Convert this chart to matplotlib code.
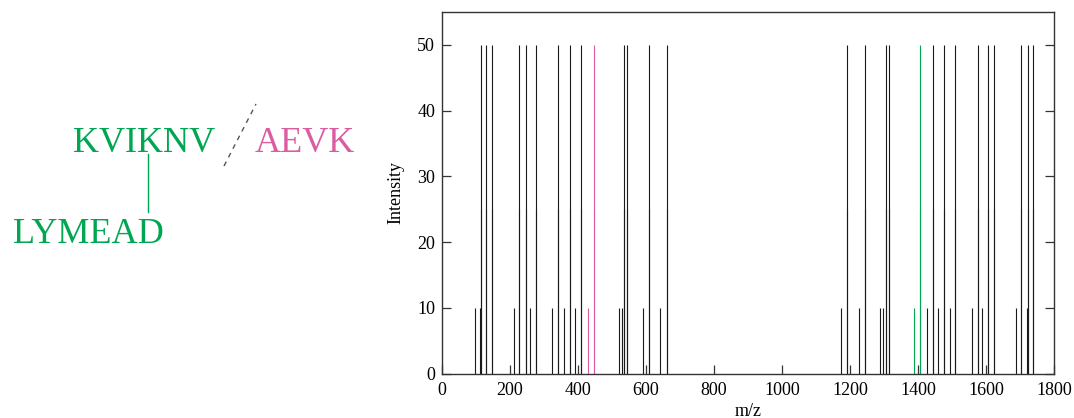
import matplotlib
matplotlib.use("Agg")
import matplotlib.pyplot as plt

plt.rcParams['font.family'] = ['Liberation Serif', 'DejaVu Serif']

# ---- data ----
mz_minor_black = [96, 111, 211, 260, 323, 358, 390, 520, 528, 590, 642,
                  1174, 1227, 1288, 1296, 1426, 1459, 1493, 1559, 1588, 1687, 1720]
mz_major_black = [114, 129, 147, 227, 246, 277, 341, 376, 408, 536, 544, 609, 661,
                  1192, 1244, 1307, 1315, 1443, 1477, 1510, 1575, 1605, 1623, 1704, 1724, 1737]
mz_minor_pink = [429]
mz_major_pink = [446]
mz_minor_green = [1387]
mz_major_green = [1406]
int_minor = 10
int_major = 50
int_half = 25

xticks = [0, 200, 400, 600, 800, 1000, 1200, 1400, 1600, 1800]
yticks = [0, 10, 20, 30, 40, 50]

GREEN = '#00A651'
PINK = '#DC5CA2'
BLACK = '#1a1a1a'

fig = plt.figure(figsize=(10.74, 4.18), dpi=100)

# annotation overlay in pixel coordinates
ov = fig.add_axes([0, 0, 1, 1])
ov.set_xlim(0, 1074)
ov.set_ylim(418, 0)
ov.axis('off')
ov.text(73, 152, 'KVIKNV', color=GREEN, fontsize=26, va='baseline', ha='left')
ov.text(255, 152, 'AEVK', color=PINK, fontsize=26, va='baseline', ha='left')
ov.text(13, 243, 'LYMEAD', color=GREEN, fontsize=26, va='baseline', ha='left')
ov.plot([148, 148], [154, 212], color=GREEN, lw=1.0)
ov.plot([224, 256], [166, 104], color='#555555', lw=1.0, dashes=(3.5, 3.5))

ax = fig.add_axes([442 / 1074, 1 - 373.5 / 418, (1054 - 442) / 1074, (373.5 - 12) / 418])

lw = 0.8
ax.vlines(mz_minor_black, 0, int_minor, color=BLACK, lw=lw)
ax.vlines(mz_major_black, 0, int_major, color=BLACK, lw=lw)
ax.vlines(mz_major_black, 0, int_half, color=BLACK, lw=lw)
ax.vlines(mz_minor_pink, 0, int_minor, color=PINK, lw=lw)
ax.vlines(mz_major_pink, 0, int_major, color=PINK, lw=lw)
ax.vlines(mz_major_pink, 0, int_half, color=PINK, lw=lw)
ax.vlines(mz_minor_green, 0, int_minor, color=GREEN, lw=lw)
ax.vlines(mz_major_green, 0, int_major, color=GREEN, lw=lw)
ax.vlines(mz_major_green, 0, int_half, color=GREEN, lw=lw)

ax.set_xlim(0, 1800)
ax.set_ylim(0, 55)
ax.set_xticks(xticks)
ax.set_yticks(yticks)
ax.tick_params(axis='both', direction='in', length=6.3, width=0.9, color='#333333',
               labelsize=13, pad=6)
ax.tick_params(axis='y', right=True, pad=5)
for s in ax.spines.values():
    s.set_color('#333333')
    s.set_linewidth(1.0)
ax.set_xlabel('m/z', fontsize=13, labelpad=3)
ax.set_ylabel('Intensity', fontsize=13, labelpad=9)

fig.savefig('out.png', dpi=100)
